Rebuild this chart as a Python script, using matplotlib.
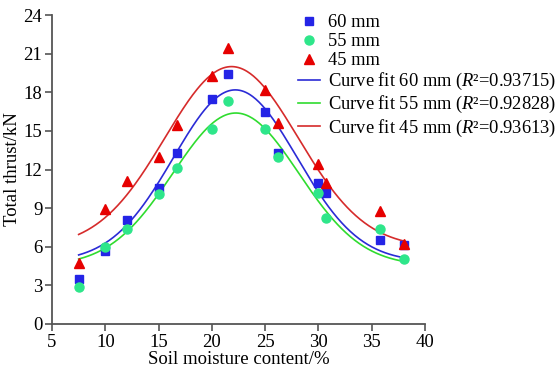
import matplotlib
matplotlib.use("Agg")
import matplotlib.pyplot as plt
import numpy as np

plt.rcParams["font.family"] = ["Liberation Serif", "DejaVu Serif"]
plt.rcParams["mathtext.fontset"] = "custom"
plt.rcParams["mathtext.rm"] = "Liberation Serif"
plt.rcParams["mathtext.it"] = "Liberation Serif:italic"

# soil moisture content (%) of the test points
moisture = [7.5, 10, 12, 15, 16.7, 20, 21.5, 25, 26.2, 30, 30.7, 35.8, 38]

thrust_60 = [3.5, 5.7, 8.1, 10.6, 13.3, 17.45, 19.4, 16.45, 13.3, 10.95, 10.2, 6.5, 6.1]
thrust_55 = [2.85, 6.0, 7.4, 10.1, 12.1, 15.15, 17.35, 15.15, 13.0, 10.15, 8.2, 7.4, 5.05]
thrust_45 = [4.7, 8.95, 11.1, 13.0, 15.45, 19.25, 21.45, 18.2, 15.6, 12.45, 10.95, 8.8, 6.2]

series_labels = ["60 mm", "55 mm", "45 mm"]
r_squared = ["0.93715", "0.92828", "0.93613"]

marker_colors = ["#2424e6", "#2ee68a", "#e60000"]
line_colors = ["#2b2bd6", "#2fdc2f", "#d62b2b"]
markers = ["s", "o", "^"]
marker_sizes = [6.0, 6.5, 7.0]


def fit_gauss(x, y):
    # y = y0 + A*exp(-(x-xc)^2 / (2 s^2)); grid over xc, s, linear solve for y0, A
    x = np.asarray(x, float)
    y = np.asarray(y, float)
    best = None
    for xc in np.linspace(18, 27, 181):
        for s in np.linspace(3, 12, 181):
            g = np.exp(-((x - xc) ** 2) / (2 * s * s))
            M = np.column_stack([np.ones_like(x), g])
            coef, *_ = np.linalg.lstsq(M, y, rcond=None)
            res = np.sum((M @ coef - y) ** 2)
            if best is None or res < best[0]:
                best = (res, xc, s, coef)
    _, xc, s, (y0, a) = best
    return lambda t: y0 + a * np.exp(-((t - xc) ** 2) / (2 * s * s))


fig = plt.figure(figsize=(5.58, 3.69), dpi=100)
ax = fig.add_axes([0.0932, 0.122, 0.6684, 0.8373])

all_series = [thrust_60, thrust_55, thrust_45]
xs = np.linspace(min(moisture), max(moisture), 300)

point_handles = []
for vals, mc, mk, ms, lab in zip(all_series, marker_colors, markers, marker_sizes, series_labels):
    h, = ax.plot(moisture, vals, linestyle="none", marker=mk, color=mc, markersize=ms, label=lab, zorder=3)
    point_handles.append(h)

line_handles = []
for vals, lc, lab, r2 in zip(all_series, line_colors, series_labels, r_squared):
    f = fit_gauss(moisture, vals)
    h, = ax.plot(xs, f(xs), color=lc, linewidth=1.2,
                 label=f"Curve fit {lab} ($\\mathit{{R}}$\u00b2=" + r2 + ")", zorder=2)
    line_handles.append(h)

ax.set_xlim(5, 40)
ax.set_ylim(0, 24)
ax.set_xticks(range(5, 41, 5))
ax.set_yticks(range(0, 25, 3))
for side in ["top", "right"]:
    ax.spines[side].set_visible(False)
for side in ["left", "bottom"]:
    ax.spines[side].set_color("#555555")
    ax.spines[side].set_linewidth(1.3)
ax.tick_params(direction="out", length=5, width=1.2, color="#555555", labelsize=13.5, pad=2)

ax.set_xlabel("Soil moisture content/%", fontsize=13.5, labelpad=0)
ax.set_ylabel("Total thrust/kN", fontsize=13.5, labelpad=2)

fig.legend(handles=point_handles + line_handles, loc="upper left",
           bbox_to_anchor=(0.534, 0.962), frameon=False, fontsize=13.3,
           handlelength=1.2, handletextpad=0.4, labelspacing=0.11,
           borderaxespad=0, borderpad=0)

fig.savefig("out.png", dpi=100)
